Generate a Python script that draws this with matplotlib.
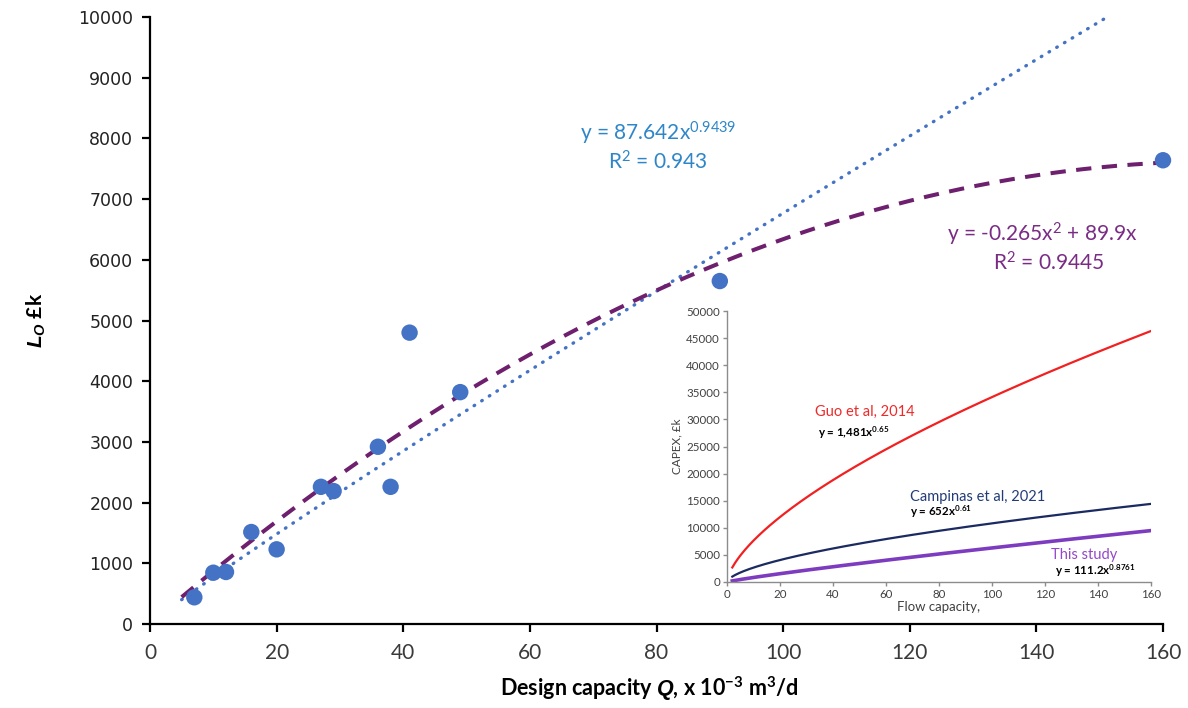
import numpy as np
import matplotlib
matplotlib.use('Agg')
import matplotlib.pyplot as plt

# ---------------- data ----------------
capacity = [7, 10, 12, 16, 20, 27, 29, 36, 38, 41, 49, 90, 160]
cost = [440, 845, 857, 1515, 1230, 2260, 2190, 2920, 2260, 4800, 3820, 5650, 7640]

power_coef, power_exp = 87.642, 0.9439
quad_a, quad_b = -0.265, 89.9
fit_start, fit_end = 5, 160

x_ticks = [0, 20, 40, 60, 80, 100, 120, 140, 160]
y_ticks = [0, 1000, 2000, 3000, 4000, 5000, 6000, 7000, 8000, 9000, 10000]

inset_names = ['Guo et al, 2014', 'Campinas et al, 2021', 'This study']
inset_eqs = [r'y = 1,481x$^{\mathbf{0.65}}$', r'y = 652x$^{\mathbf{0.61}}$', r'y = 111.2x$^{\mathbf{0.8761}}$']
inset_coef = [1710, 652, 111.2]
inset_exp = [0.65, 0.61, 0.8761]
inset_start, inset_end = 2, 160
inset_x_ticks = [0, 20, 40, 60, 80, 100, 120, 140, 160]
inset_y_ticks = list(range(0, 50001, 5000))

# ---------------- style ----------------
plt.rcParams['mathtext.fontset'] = 'custom'
plt.rcParams['mathtext.rm'] = 'Lato'
plt.rcParams['mathtext.it'] = 'Lato:italic'
plt.rcParams['mathtext.bf'] = 'Lato:bold'
plt.rcParams['mathtext.bfit'] = 'Liberation Sans:italic:bold'
plt.rcParams['font.family'] = ['Lato', 'DejaVu Sans']

fig = plt.figure(figsize=(11.88, 7.08), dpi=100)
ax = fig.add_axes([150/1188, 84/708, 1013/1188, 607/708])

blue = '#4472C4'
purple_line = '#6E1F6E'

xf = np.linspace(fit_start, fit_end, 400)
ax.plot(xf, power_coef * xf ** power_exp, color=blue, lw=2.4,
        linestyle=(0, (0.2, 2.5)), dash_capstyle='round', zorder=2)
ax.plot(xf, quad_a * xf ** 2 + quad_b * xf, color=purple_line, lw=2.9,
        linestyle=(0, (3.8, 2.6)), zorder=3)
ax.scatter(capacity, cost, s=140, color=blue, zorder=4, clip_on=False, edgecolors='none')

ax.set_xlim(0, 160)
ax.set_ylim(0, 10000)
ax.set_xticks(x_ticks)
ax.set_yticks(y_ticks)
for s in ['top', 'right']:
    ax.spines[s].set_visible(False)
for s in ['left', 'bottom']:
    ax.spines[s].set_linewidth(1.6)
ax.tick_params(direction='out', length=6, width=1.6)
ax.tick_params(axis='x', labelsize=15, labelcolor='#3a3a3a', pad=8)
ax.tick_params(axis='y', labelsize=12.5, labelcolor='#222222', pad=6)
for lab in ax.get_yticklabels():
    lab.set_family('DejaVu Sans')

ax.set_xlabel(r'Design capacity $\mathbfit{Q}$, x 10$^{\mathbf{-3}}$ m$^{\mathbf{3}}$/d',
              fontsize=15.5, fontweight='bold')
ax.xaxis.set_label_coords(0.4925, -0.083)
ax.set_ylabel(r'$\mathbfit{L_O}$ £k', fontsize=15, fontweight='bold', labelpad=22)

txt_blue = '#2E86C8'
txt_purple = '#7A2C84'
ax.text(80.2, 8090, r'y = 87.642x$^{0.9439}$', color=txt_blue, fontsize=15, ha='center', va='center')
ax.text(80.2, 7610, r'R$^2$ = 0.943', color=txt_blue, fontsize=15, ha='center', va='center')
ax.text(141, 6425, r'y = -0.265x$^2$ + 89.9x', color=txt_purple, fontsize=15, ha='center', va='center')
ax.text(142, 5950, r'R$^2$ = 0.9445', color=txt_purple, fontsize=15, ha='center', va='center')

# ---------------- inset ----------------
ins = fig.add_axes([727/1188, 126/708, 424/1188, 271/708])
ins.set_facecolor('white')
line_colors = ['#F22020', '#1C2A62', '#7D3CC0']
text_colors = ['#EE2A2A', '#233C78', '#9448C8']
line_widths = [1.6, 1.6, 2.6]
xi = np.linspace(inset_start, inset_end, 300)
for c, e, col, lw in zip(inset_coef, inset_exp, line_colors, line_widths):
    ins.plot(xi, c * xi ** e, color=col, lw=lw)

ins.set_xlim(0, 160)
ins.set_ylim(0, 50000)
ins.set_xticks(inset_x_ticks)
ins.set_yticks(inset_y_ticks)
for s in ['top', 'right']:
    ins.spines[s].set_visible(False)
for s in ['left', 'bottom']:
    ins.spines[s].set_color('#8C8C8C')
    ins.spines[s].set_linewidth(1.0)
ins.tick_params(direction='out', length=3, width=1.0, color='#8C8C8C',
                labelsize=8.3, labelcolor='#404040', pad=2)
ins.set_xlabel('Flow capacity,', fontsize=9.5, color='#404040', labelpad=1)
ins.set_ylabel('CAPEX, £k', fontsize=8.5, color='#404040', labelpad=3)

name_pos = [(33.2, 31365), (69, 15680), (122.3, 4980)]
eq_pos = [(34.3, 27490), (69, 12900), (123.7, 2090)]
for name, eq, npos, epos, tc in zip(inset_names, inset_eqs, name_pos, eq_pos, text_colors):
    ins.text(npos[0], npos[1], name, color=tc, fontsize=10.5, ha='left', va='center')
    ins.text(epos[0], epos[1], eq, color='black', fontsize=8.3, fontweight='bold', ha='left', va='center')

fig.savefig('out.png', dpi=100)
